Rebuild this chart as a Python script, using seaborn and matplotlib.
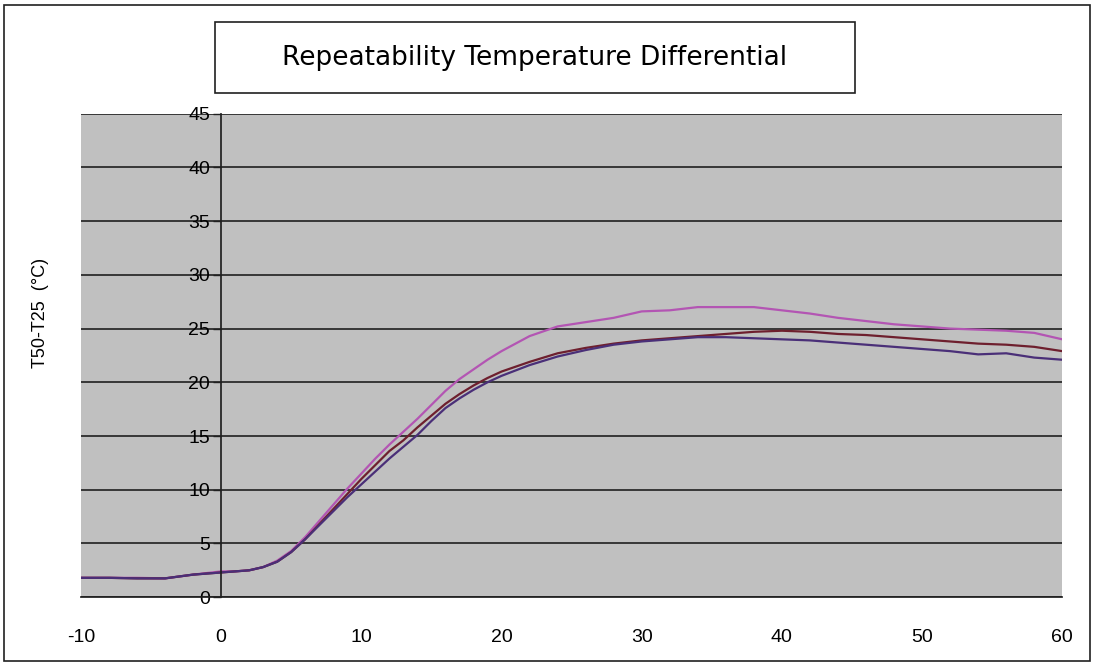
import matplotlib.pyplot as plt
from matplotlib.patches import Rectangle
import seaborn as sns
import pandas as pd

sns.set_theme(style="white")
plt.rcParams['font.family'] = ['Liberation Sans', 'DejaVu Sans']
plt.rcParams['axes.unicode_minus'] = False

# Time axis (shared by the three runs)
time = [-10, -8, -6, -4, -2,
        0, 1, 2, 3, 4, 5, 6, 7, 8, 9, 10, 11, 12, 13, 14, 15, 16, 17, 18, 19, 20,
        22, 24, 26, 28, 30, 32, 34, 36, 38, 40, 42, 44, 46, 48, 50, 52, 54, 56, 58, 60]

run_pink = [1.8, 1.8, 1.8, 1.75, 2.1,
            2.4, 2.4, 2.5, 2.8, 3.4, 4.3, 5.6, 7.1, 8.6, 10.1, 11.5, 12.9, 14.2, 15.4, 16.6, 17.9, 19.2, 20.3, 21.2, 22.1, 22.9,
            24.3, 25.2, 25.6, 26.0, 26.6, 26.7, 27.0, 27.0, 27.0, 26.7, 26.4, 26.0, 25.7, 25.4, 25.2, 25.0, 24.9, 24.8, 24.6, 24.0]

run_brown = [1.8, 1.8, 1.75, 1.75, 2.1,
             2.3, 2.4, 2.5, 2.8, 3.3, 4.2, 5.4, 6.8, 8.2, 9.6, 11.0, 12.3, 13.6, 14.6, 15.8, 16.9, 18.0, 18.9, 19.7, 20.4, 21.0,
             21.9, 22.7, 23.2, 23.6, 23.9, 24.1, 24.3, 24.5, 24.7, 24.8, 24.7, 24.5, 24.4, 24.2, 24.0, 23.8, 23.6, 23.5, 23.3, 22.9]

run_purple = [1.8, 1.8, 1.75, 1.75, 2.1,
              2.3, 2.4, 2.5, 2.8, 3.3, 4.2, 5.4, 6.7, 8.0, 9.3, 10.5, 11.7, 12.9, 14.0, 15.1, 16.4, 17.6, 18.5, 19.3, 20.0, 20.6,
              21.6, 22.4, 23.0, 23.5, 23.8, 24.0, 24.2, 24.2, 24.1, 24.0, 23.9, 23.7, 23.5, 23.3, 23.1, 22.9, 22.6, 22.7, 22.3, 22.1]

colors = {'Run 1': '#B355B3', 'Run 2': '#6E1F2E', 'Run 3': '#4A2F78'}

df = pd.concat([
    pd.DataFrame({'time': time, 'dT': run_pink, 'run': 'Run 1'}),
    pd.DataFrame({'time': time, 'dT': run_brown, 'run': 'Run 2'}),
    pd.DataFrame({'time': time, 'dT': run_purple, 'run': 'Run 3'}),
])

fig = plt.figure(figsize=(10.94, 6.65), dpi=100)
ax = fig.add_axes([0.074, 0.102, 0.897, 0.727])
ax.set_facecolor('#C0C0C0')

sns.lineplot(data=df, x='time', y='dT', hue='run', palette=colors,
             linewidth=1.6, legend=False, ax=ax)

ax.set_xlim(-10, 60)
ax.set_ylim(0, 45)
ax.set_xticks(range(-10, 61, 10))
ax.set_yticks(range(0, 46, 5))
ax.yaxis.grid(True, color='#202020', linewidth=1.2)
ax.xaxis.grid(False)
ax.set_axisbelow(True)

ax.spines['left'].set_position(('data', 0))
ax.spines['left'].set_color('#202020')
ax.spines['bottom'].set_color('#202020')
ax.spines['top'].set_visible(False)
ax.spines['right'].set_visible(False)
ax.tick_params(axis='x', direction='out', length=5, width=1, color='#202020',
               pad=18, labelsize=14, labelcolor='black')
ax.tick_params(axis='y', direction='out', length=6, width=1, color='#202020',
               pad=2, labelsize=14, labelcolor='black', left=True)

ax.set_xlabel('')
ax.set_ylabel('')
fig.text(0.037, 0.53, 'T50-T25  (°C)', rotation=90, ha='center', va='center',
         fontsize=13, color='black')

# Title box
fig.patches.append(Rectangle((215 / 1094, 1 - 93 / 665), 640 / 1094, 71 / 665,
                             transform=fig.transFigure, fill=False,
                             edgecolor='#202020', linewidth=1.2))
fig.text(535 / 1094, 1 - 58 / 665, 'Repeatability Temperature Differential',
         ha='center', va='center', fontsize=19, color='black',
         family=['DejaVu Sans'])

# Outer frame
fig.patches.append(Rectangle((4 / 1094, 4 / 665), 1086 / 1094, 656 / 665,
                             transform=fig.transFigure, fill=False,
                             edgecolor='#202020', linewidth=1.2))

plt.savefig('out.png', dpi=100)
